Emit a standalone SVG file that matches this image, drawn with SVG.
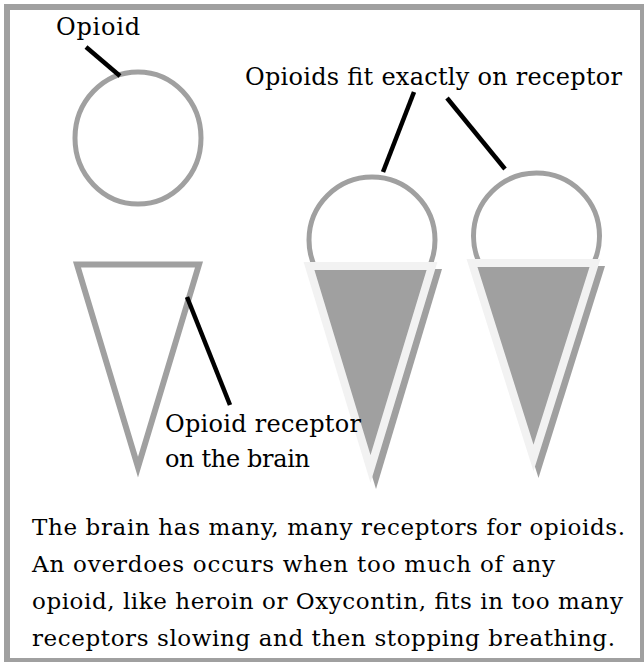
<svg xmlns="http://www.w3.org/2000/svg" width="644" height="662" viewBox="0 0 644 662">
<style>
.t{font-family:"DejaVu Serif","Liberation Serif",serif;font-size:24px;fill:#000}
.c{font-size:23px}
.ring{fill:none;stroke:#a0a0a0;stroke-width:5}
.cone{fill:#a0a0a0;stroke:#f2f2f2;stroke-width:8;stroke-linejoin:miter;stroke-miterlimit:10}
.shadow{fill:#a0a0a0}
.lead{stroke:#000;stroke-width:4.5;fill:none}
</style>
<rect x="7" y="7" width="636" height="654" fill="#fff" stroke="#a0a0a0" stroke-width="6"/>
<g id="opioid">
<ellipse class="ring" cx="138" cy="138" rx="63" ry="66"/>
<text class="t" x="56" y="35" font-size="25" textLength="84">Opioid</text>
</g>
<g id="bound1">
<circle class="ring" cx="372" cy="240" r="63"/>
<polygon class="shadow" points="304,262 437,262 371,482" transform="translate(5,7)"/>
<polygon class="cone" points="309,266 432,266 370.5,469"/>
</g>
<g id="bound2">
<circle class="ring" cx="536.5" cy="236" r="63"/>
<polygon class="shadow" points="467,259 600,259 533.5,471" transform="translate(5,7)"/>
<polygon class="cone" points="472,263 595,263 533.5,458"/>
</g>
<g id="receptor">
<polygon points="77,264.5 199,264.5 138,467" fill="none" stroke="#a0a0a0" stroke-width="6" stroke-miterlimit="10"/>
<text class="t" x="165" y="432" textLength="196">Opioid receptor</text>
<text class="t" x="165" y="467" textLength="145">on the brain</text>
</g>
<g id="fit-label">
<text class="t" x="245" y="85" textLength="377">Opioids fit exactly on receptor</text>
</g>
<g id="connectors">
<line class="lead" x1="86" y1="47" x2="120" y2="76"/>
<line class="lead" x1="187" y1="297" x2="230" y2="405"/>
<line class="lead" x1="414" y1="92" x2="383" y2="172"/>
<line class="lead" x1="447" y1="98" x2="505" y2="169"/>
</g>
<g id="caption">
<text class="t c" x="32" y="535" textLength="593">The brain has many, many receptors for opioids.</text>
<text class="t c" x="32" y="572" textLength="523">An overdoes occurs when too much of any</text>
<text class="t c" x="32" y="609" textLength="591">opioid, like heroin or Oxycontin, fits in too many</text>
<text class="t c" x="32" y="646" textLength="583">receptors slowing and then stopping breathing.</text>
</g>
</svg>
